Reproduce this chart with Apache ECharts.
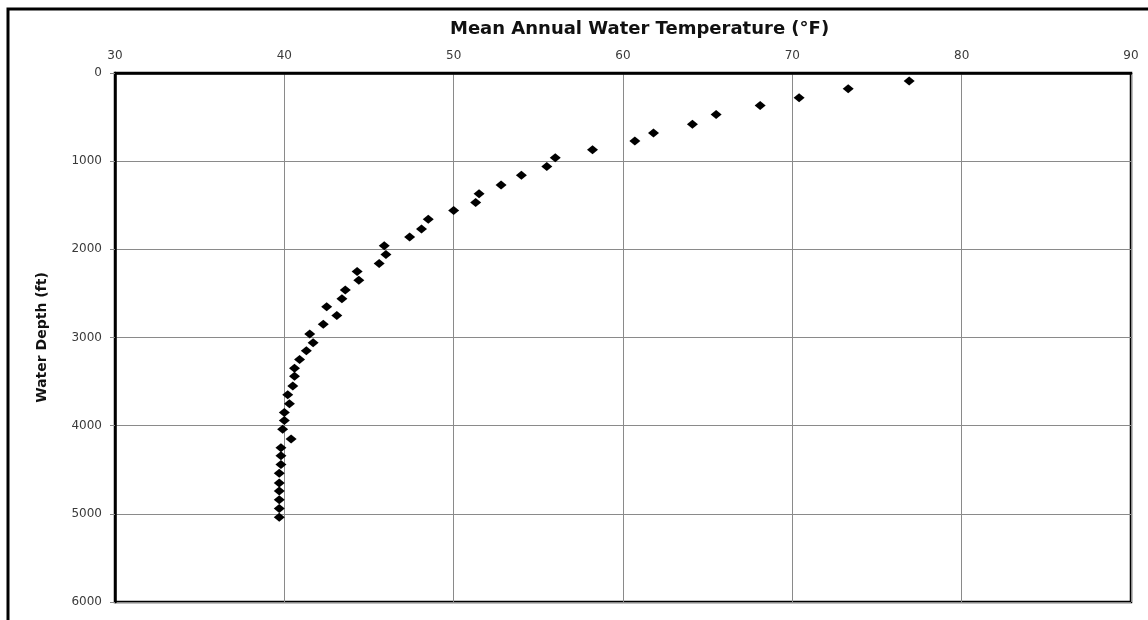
<!DOCTYPE html>
<html>
<head>
<meta charset="utf-8">
<title>Mean Annual Water Temperature</title>
<script src="https://cdn.jsdelivr.net/npm/echarts@6/dist/echarts.min.js"></script>
<style>
  html, body { margin: 0; padding: 0; background: #fff; }
  #chart { width: 1148px; height: 620px; }
</style>
</head>
<body>
<div id="chart"></div>
<script>
// temperature (°F), shallow to deep
const temperatures = [
  76.9, 73.3, 70.4, 68.1, 65.5, 64.1, 61.8, 60.7, 58.2, 56.0,
  55.5, 54.0, 52.8, 51.5, 51.3, 50.0, 48.5, 48.1, 47.4, 45.9,
  46.0, 45.6, 44.3, 44.4, 43.6, 43.4, 42.5, 43.1, 42.3, 41.5,
  41.7, 41.3, 40.9, 40.6, 40.6, 40.5, 40.2, 40.3, 40.0, 40.0,
  39.9, 40.4, 39.8, 39.8, 39.8, 39.7, 39.7, 39.7, 39.7, 39.7,
  39.7,
]
// water depth (ft) for each point
const depths = [
  90, 180, 280, 370, 470, 580, 680, 770, 870, 960,
  1060, 1160, 1270, 1370, 1470, 1560, 1660, 1770, 1860, 1960,
  2060, 2160, 2250, 2350, 2460, 2560, 2650, 2750, 2850, 2960,
  3060, 3150, 3250, 3350, 3440, 3550, 3650, 3750, 3850, 3940,
  4040, 4150, 4250, 4340, 4440, 4540, 4650, 4740, 4840, 4940,
  5040,
]
const tempTicks = [30, 90, 10]     // min, max, step
const depthTicks = [0, 6000, 1000]

const labelFont = { fontFamily: 'DejaVu Sans', fontSize: 12, color: '#3a3a3a' }
const gridLine = { show: true, lineStyle: { color: '#8a8a8a', width: 1 } }

const chart = echarts.init(document.getElementById('chart'), null, { renderer: 'canvas' })

chart.setOption({
  animation: false,
  backgroundColor: '#fff',
  title: {
    text: 'Mean Annual Water Temperature (°F)',
    left: 445,
    top: 15,
    textStyle: { fontFamily: 'DejaVu Sans', fontWeight: 'bold', fontSize: 18, color: '#111' },
  },
  grid: {
    left: 115, top: 73, right: 17, bottom: 18,
    show: true, borderColor: '#000', borderWidth: 2.5,
  },
  xAxis: {
    type: 'value',
    position: 'top',
    min: tempTicks[0],
    max: tempTicks[1],
    interval: tempTicks[2],
    axisLine: { show: true, lineStyle: { color: '#000', width: 2.5 } },
    axisTick: { show: false },
    axisLabel: { ...labelFont, margin: 11 },
    splitLine: gridLine,
  },
  yAxis: {
    type: 'value',
    inverse: true,
    min: depthTicks[0],
    max: depthTicks[1],
    interval: depthTicks[2],
    name: 'Water Depth (ft)',
    nameLocation: 'middle',
    nameGap: 66,
    nameTextStyle: { fontFamily: 'DejaVu Sans', fontWeight: 'bold', fontSize: 14, color: '#111' },
    axisLine: { show: true, lineStyle: { color: '#000', width: 2.5 } },
    axisTick: { show: true, length: 5, lineStyle: { color: '#888' } },
    axisLabel: { ...labelFont, margin: 13, formatter: (v) => String(v) },
    splitLine: gridLine,
  },
  graphic: [
    {
      // page frame of the scanned figure (only top and left edges visible)
      type: 'rect',
      silent: true,
      shape: { x: 8, y: 9, width: 1400, height: 900 },
      style: { fill: null, stroke: '#000', lineWidth: 3 },
    },
  ],
  series: [
    {
      type: 'scatter',
      symbol: 'diamond',
      symbolSize: [11, 9],
      itemStyle: { color: '#000', opacity: 1 },
      data: temperatures.map((t, i) => [t, depths[i]]),
    },
  ],
})
</script>
</body>
</html>
